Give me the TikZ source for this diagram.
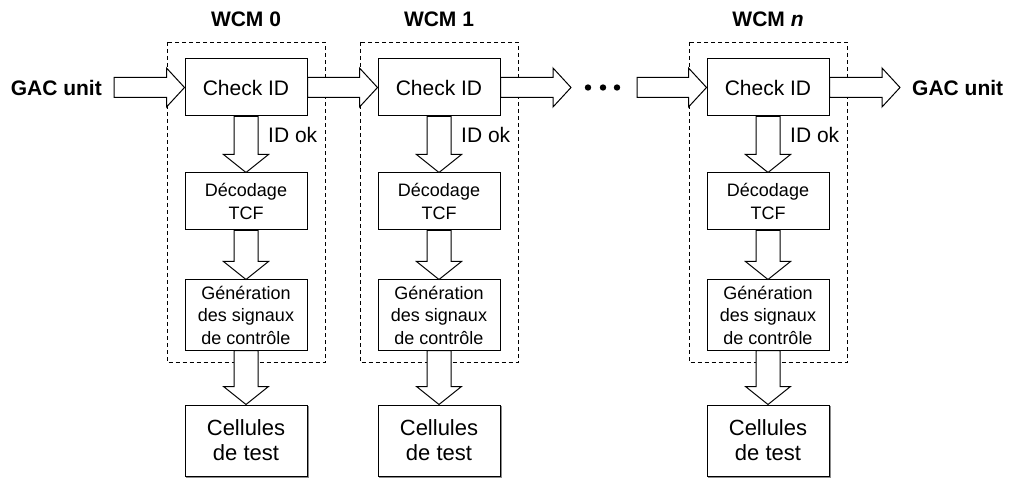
\documentclass[tikz,border=0pt]{standalone}
\usepackage{fontspec}
\setmainfont{Liberation Sans}
\usetikzlibrary{calc}
\tikzset{
  blk/.style={draw=black, fill=white, line width=1pt, line join=miter},
  wbox/.style={draw=black, fill=white, line width=1pt, minimum width=122pt, inner sep=0pt, align=center},
  dbox/.style={draw=black, dashed, dash pattern=on 4pt off 3pt, line width=0.8pt},
  shadowbox/.style={wbox, minimum height=71pt, font=\fontsize{22}{25}\selectfont,
     preaction={draw=black!45, line width=1.2pt, transform canvas={shift={(1.4pt,-1.4pt)}}}},
  title/.style={font=\bfseries\fontsize{21}{24}\selectfont},
  small/.style={font=\fontsize{18}{22.5}\selectfont},
}
\newcommand\harrow[2]{\draw[blk] ($(#1)+(0,-10)$) -- ($(#2)+(-18,-10)$) -- ($(#2)+(-18,-19.5)$) -- (#2) -- ($(#2)+(-18,19.5)$) -- ($(#2)+(-18,10)$) -- ($(#1)+(0,10)$) -- cycle;}
\newcommand\varrow[2]{\draw[blk] ($(#1)+(-12,0)$) -- ($(#2)+(-12,-18)$) -- ($(#2)+(-22.5,-18)$) -- (#2) -- ($(#2)+(22.5,-18)$) -- ($(#2)+(12,-18)$) -- ($(#1)+(12,0)$) -- cycle;}
\begin{document}
\begin{tikzpicture}[x=1pt, y=-1pt]
\useasboundingbox (0,0) rectangle (1009,478);
% titles
\node[title] (t0) at (246,19) {WCM 0};
\node[title] (t1) at (439,19) {WCM 1};
\node[title] (tn) at (768,19) {WCM \textit{n}};
% dashed frames
\foreach \cx/\nm in {246/0, 439/1, 768/n} {
  \draw[dbox] (\cx-79,42) rectangle (\cx+79,362.5);
}
% columns
\foreach \cx/\nm in {246/0, 439/1, 768/n} {
  \node[wbox, minimum height=57pt, font=\fontsize{21}{24}\selectfont] (c\nm) at (\cx,87.5) {Check ID};
  \node[wbox, minimum height=57pt, small] (d\nm) at (\cx,201.5) {Décodage\\TCF};
  \node[wbox, minimum height=70pt, small] (g\nm) at (\cx,315) {Génération\\des signaux\\de contrôle};
  \node[shadowbox] (s\nm) at (\cx,440.5) {Cellules\\de test};
  \node[font=\fontsize{21}{24}\selectfont, anchor=west, inner sep=0pt] (ok\nm) at (\cx+22,135) {ID ok};
}
% arrows down
\foreach \nm in {0,1,n} {
  \varrow{c\nm.south}{d\nm.north}
  \varrow{d\nm.south}{g\nm.north}
  \varrow{g\nm.south}{s\nm.north}
}
% side labels and free ends
\node[title, anchor=east, inner sep=0pt] (gacin) at (102,88) {GAC unit};
\coordinate (inS) at (114,87.5);
\node[title, anchor=west, inner sep=0pt] (gacout) at (912,88) {GAC unit};
\coordinate (outE) at (900,87.5);
\coordinate (mid1) at (571,87.5);
\coordinate (mid2) at (637,87.5);
% dots
\foreach \x [count=\i] in {588,603,617} \fill (\x,87.5) circle (3.2pt) coordinate (dot\i);
% horizontal arrows
\harrow{inS}{c0.west}
\harrow{c0.east}{c1.west}
\harrow{c1.east}{mid1}
\harrow{mid2}{cn.west}
\harrow{cn.east}{outE}
\end{tikzpicture}
\end{document}
